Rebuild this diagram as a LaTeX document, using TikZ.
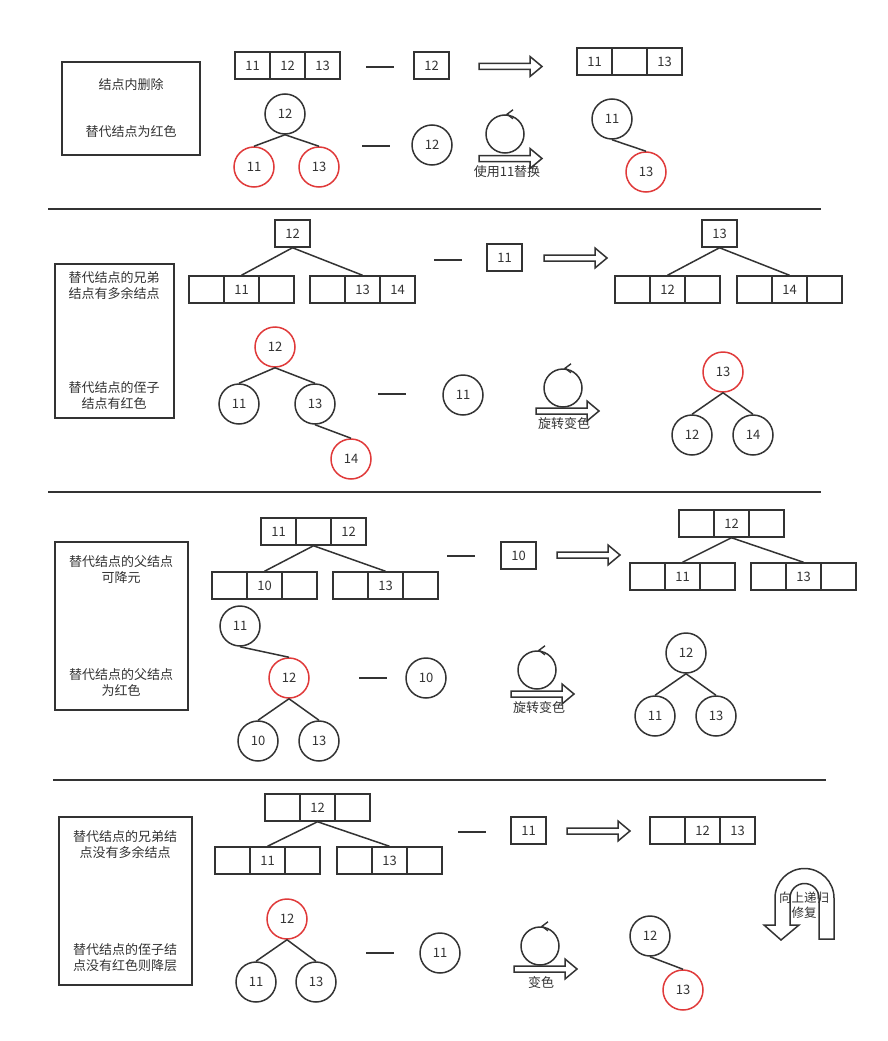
\documentclass[tikz,border=0pt]{standalone}
\usepackage{fontspec}
\setmainfont{Noto Sans CJK SC}
\begin{document}
\begin{tikzpicture}[x=1pt,y=-1pt,
  every node/.style={text=ink, font=\fontsize{13}{16}\selectfont},
  cell/.style={draw=ink, rectangle, line width=1.5pt, minimum width=35pt, minimum height=27pt, inner sep=0pt, fill=white},
  tn/.style={draw=ink, circle, line width=1.5pt, minimum size=40pt, inner sep=0pt},
  rn/.style={tn, draw=redc},
  edge/.style={draw=ink, line width=1.5pt},
  dashline/.style={draw=ink, line width=2.2pt},
  sep/.style={draw=ink, line width=1.5pt},
  frame/.style={draw=ink, line width=1.8pt},
  txt/.style={align=center, inner sep=0pt},
  rot/.style={draw=ink, circle, line width=1.5pt, minimum size=38pt, inner sep=0pt},
  chev/.style={draw=ink, line width=1.4pt},
  blockarrow/.pic={\draw[draw=ink, fill=white, line width=1.5pt, line join=miter]
     (0,-3) -- (51,-3) -- (51,-10) -- (63,0) -- (51,10) -- (51,3) -- (0,3) -- cycle;}
]
\definecolor{ink}{HTML}{333333}
\definecolor{redc}{HTML}{E03A3A}
\useasboundingbox[fill=white] (0,0) rectangle (888,1041);

% ================= Section 1 =================
\draw[frame] (62,62) rectangle (200,155);
\node[txt] (t1a) at (131,85) {结点内删除};
\node[txt] (t1b) at (131,132) {替代结点为红色};

\node[cell] (s1a1) at (252.5,65.5) {11};
\node[cell] (s1a2) at (287.5,65.5) {12};
\node[cell] (s1a3) at (322.5,65.5) {13};
\coordinate (d1a) at (366,67); \coordinate (d1b) at (394,67);
\draw[dashline] (d1a) -- (d1b);
\node[cell] (s1x) at (431.5,65.5) {12};
\pic at (479,66.5) {blockarrow};
\node[cell] (s1r1) at (594.5,61.5) {11};
\node[cell] (s1r2) at (629.5,61.5) {};
\node[cell] (s1r3) at (664.5,61.5) {13};

\node[tn] (s1n12) at (285,114) {12};
\node[rn] (s1n11) at (254,167) {11};
\node[rn] (s1n13) at (319,167) {13};
\draw[edge] (s1n12.south) -- (s1n11.north);
\draw[edge] (s1n12.south) -- (s1n13.north);
\coordinate (d2a) at (362,146); \coordinate (d2b) at (390,146);
\draw[dashline] (d2a) -- (d2b);
\node[tn] (s1c12) at (432,145) {12};
\node[rot] (r1) at (505,134) {};
\draw[chev] ([shift={(8,-4.5)}]r1.north) -- ([shift={(2,0)}]r1.north) -- ([shift={(8,4.5)}]r1.north);
\pic at (479,158.5) {blockarrow};
\node[txt] (l1) at (507,172) {使用11替换};
\node[tn] (s1o11) at (612,119) {11};
\node[rn] (s1o13) at (646,172) {13};
\draw[edge] (s1o11.south) -- (s1o13.north);

\coordinate (sp1a) at (48,209); \coordinate (sp1b) at (821,209);
\draw[sep] (sp1a) -- (sp1b);

% ================= Section 2 =================
\draw[frame] (55,264) rectangle (174,418);
\node[txt] (t2a) at (114,286) {替代结点的兄弟\\结点有多余结点};
\node[txt] (t2b) at (114,396) {替代结点的侄子\\结点有红色};

\node[cell] (s2top) at (292.5,233.5) {12};
\node[cell] (s2l1) at (206.5,289.5) {};
\node[cell] (s2l2) at (241.5,289.5) {11};
\node[cell] (s2l3) at (276.5,289.5) {};
\node[cell] (s2r1) at (327.5,289.5) {};
\node[cell] (s2r2) at (362.5,289.5) {13};
\node[cell] (s2r3) at (397.5,289.5) {14};
\draw[edge] (s2top.south) -- (s2l2.north);
\draw[edge] (s2top.south) -- (s2r2.north);
\coordinate (d3a) at (434,260); \coordinate (d3b) at (462,260);
\draw[dashline] (d3a) -- (d3b);
\node[cell] (s2x) at (504.5,257.5) {11};
\pic at (544,258) {blockarrow};
\node[cell] (s2otop) at (719.5,233.5) {13};
\node[cell] (s2ol1) at (632.5,289.5) {};
\node[cell] (s2ol2) at (667.5,289.5) {12};
\node[cell] (s2ol3) at (702.5,289.5) {};
\node[cell] (s2or1) at (754.5,289.5) {};
\node[cell] (s2or2) at (789.5,289.5) {14};
\node[cell] (s2or3) at (824.5,289.5) {};
\draw[edge] (s2otop.south) -- (s2ol2.north);
\draw[edge] (s2otop.south) -- (s2or2.north);

\node[rn] (s2n12) at (275,347) {12};
\node[tn] (s2n11) at (239,404) {11};
\node[tn] (s2n13) at (315,404) {13};
\node[rn] (s2n14) at (351,459) {14};
\draw[edge] (s2n12.south) -- (s2n11.north);
\draw[edge] (s2n12.south) -- (s2n13.north);
\draw[edge] (s2n13.south) -- (s2n14.north);
\coordinate (d4a) at (378,394); \coordinate (d4b) at (406,394);
\draw[dashline] (d4a) -- (d4b);
\node[tn] (s2c11) at (463,395) {11};
\node[rot] (r2) at (563,388) {};
\draw[chev] ([shift={(8,-4.5)}]r2.north) -- ([shift={(2,0)}]r2.north) -- ([shift={(8,4.5)}]r2.north);
\pic at (536,411) {blockarrow};
\node[txt] (l2) at (564,424) {旋转变色};
\node[rn] (s2o13) at (723,372) {13};
\node[tn] (s2o12) at (692,435) {12};
\node[tn] (s2o14) at (753,435) {14};
\draw[edge] (s2o13.south) -- (s2o12.north);
\draw[edge] (s2o13.south) -- (s2o14.north);

\coordinate (sp2a) at (48,492); \coordinate (sp2b) at (821,492);
\draw[sep] (sp2a) -- (sp2b);

% ================= Section 3 =================
\draw[frame] (55,542) rectangle (188,710);
\node[txt] (t3a) at (121,570) {替代结点的父结点\\可降元};
\node[txt] (t3b) at (121,682) {替代结点的父结点\\为红色};

\node[cell] (s3t1) at (278.5,531.5) {11};
\node[cell] (s3t2) at (313.5,531.5) {};
\node[cell] (s3t3) at (348.5,531.5) {12};
\node[cell] (s3l1) at (229.5,585.5) {};
\node[cell] (s3l2) at (264.5,585.5) {10};
\node[cell] (s3l3) at (299.5,585.5) {};
\node[cell] (s3r1) at (350.5,585.5) {};
\node[cell] (s3r2) at (385.5,585.5) {13};
\node[cell] (s3r3) at (420.5,585.5) {};
\draw[edge] (s3t2.south) -- (s3l2.north);
\draw[edge] (s3t2.south) -- (s3r2.north);
\coordinate (d5a) at (447,556); \coordinate (d5b) at (475,556);
\draw[dashline] (d5a) -- (d5b);
\node[cell] (s3x) at (518.5,555.5) {10};
\pic at (557,555) {blockarrow};
\node[cell] (s3ot1) at (696.5,523.5) {};
\node[cell] (s3ot2) at (731.5,523.5) {12};
\node[cell] (s3ot3) at (766.5,523.5) {};
\node[cell] (s3ol1) at (647.5,576.5) {};
\node[cell] (s3ol2) at (682.5,576.5) {11};
\node[cell] (s3ol3) at (717.5,576.5) {};
\node[cell] (s3or1) at (768.5,576.5) {};
\node[cell] (s3or2) at (803.5,576.5) {13};
\node[cell] (s3or3) at (838.5,576.5) {};
\draw[edge] (s3ot2.south) -- (s3ol2.north);
\draw[edge] (s3ot2.south) -- (s3or2.north);

\node[tn] (s3n11) at (240,626) {11};
\node[rn] (s3n12) at (289,678) {12};
\node[tn] (s3n10) at (258,741) {10};
\node[tn] (s3n13) at (319,741) {13};
\draw[edge] (s3n11.south) -- (s3n12.north);
\draw[edge] (s3n12.south) -- (s3n10.north);
\draw[edge] (s3n12.south) -- (s3n13.north);
\coordinate (d6a) at (359,678); \coordinate (d6b) at (387,678);
\draw[dashline] (d6a) -- (d6b);
\node[tn] (s3c10) at (426,678) {10};
\node[rot] (r3) at (537,670) {};
\draw[chev] ([shift={(8,-4.5)}]r3.north) -- ([shift={(2,0)}]r3.north) -- ([shift={(8,4.5)}]r3.north);
\pic at (511,694) {blockarrow};
\node[txt] (l3) at (539,708) {旋转变色};
\node[tn] (s3o12) at (686,653) {12};
\node[tn] (s3o11) at (655,716) {11};
\node[tn] (s3o13) at (716,716) {13};
\draw[edge] (s3o12.south) -- (s3o11.north);
\draw[edge] (s3o12.south) -- (s3o13.north);

\coordinate (sp3a) at (53,780); \coordinate (sp3b) at (826,780);
\draw[sep] (sp3a) -- (sp3b);

% ================= Section 4 =================
\draw[frame] (59,817) rectangle (192,985);
\node[txt] (t4a) at (125,845) {替代结点的兄弟结\\点没有多余结点};
\node[txt] (t4b) at (125,958) {替代结点的侄子结\\点没有红色则降层};

\node[cell] (s4t1) at (282.5,807.5) {};
\node[cell] (s4t2) at (317.5,807.5) {12};
\node[cell] (s4t3) at (352.5,807.5) {};
\node[cell] (s4l1) at (232.5,860.5) {};
\node[cell] (s4l2) at (267.5,860.5) {11};
\node[cell] (s4l3) at (302.5,860.5) {};
\node[cell] (s4r1) at (354.5,860.5) {};
\node[cell] (s4r2) at (389.5,860.5) {13};
\node[cell] (s4r3) at (424.5,860.5) {};
\draw[edge] (s4t2.south) -- (s4l2.north);
\draw[edge] (s4t2.south) -- (s4r2.north);
\coordinate (d7a) at (458,832); \coordinate (d7b) at (486,832);
\draw[dashline] (d7a) -- (d7b);
\node[cell] (s4x) at (528.5,830.5) {11};
\pic at (567,831) {blockarrow};
\node[cell] (s4o1) at (667.5,830.5) {};
\node[cell] (s4o2) at (702.5,830.5) {12};
\node[cell] (s4o3) at (737.5,830.5) {13};

% U-turn arrow
\draw[draw=ink, fill=white, line width=1.5pt, line join=miter]
  (834,939) -- (834,898) arc[start angle=0, end angle=-180, radius=29.5]
  -- (775,925) -- (764,925) -- (781,940) -- (799,925) -- (790,925)
  -- (790,898) arc[start angle=180, end angle=360, radius=14.5]
  -- (819,939) -- cycle;
\node[txt, font=\fontsize{12.5}{14.5}\selectfont] (l5) at (804,905) {向上递归\\修复};

\node[rn] (s4n12) at (287,919) {12};
\node[tn] (s4n11) at (256,982) {11};
\node[tn] (s4n13) at (316,982) {13};
\draw[edge] (s4n12.south) -- (s4n11.north);
\draw[edge] (s4n12.south) -- (s4n13.north);
\coordinate (d8a) at (366,953); \coordinate (d8b) at (394,953);
\draw[dashline] (d8a) -- (d8b);
\node[tn] (s4c11) at (440,953) {11};
\node[rot] (r4) at (540,946) {};
\draw[chev] ([shift={(8,-4.5)}]r4.north) -- ([shift={(2,0)}]r4.north) -- ([shift={(8,4.5)}]r4.north);
\pic at (514,969) {blockarrow};
\node[txt] (l4) at (541,983) {变色};
\node[tn] (s4o12) at (650,936) {12};
\node[rn] (s4o13) at (683,990) {13};
\draw[edge] (s4o12.south) -- (s4o13.north);
\end{tikzpicture}
\end{document}
